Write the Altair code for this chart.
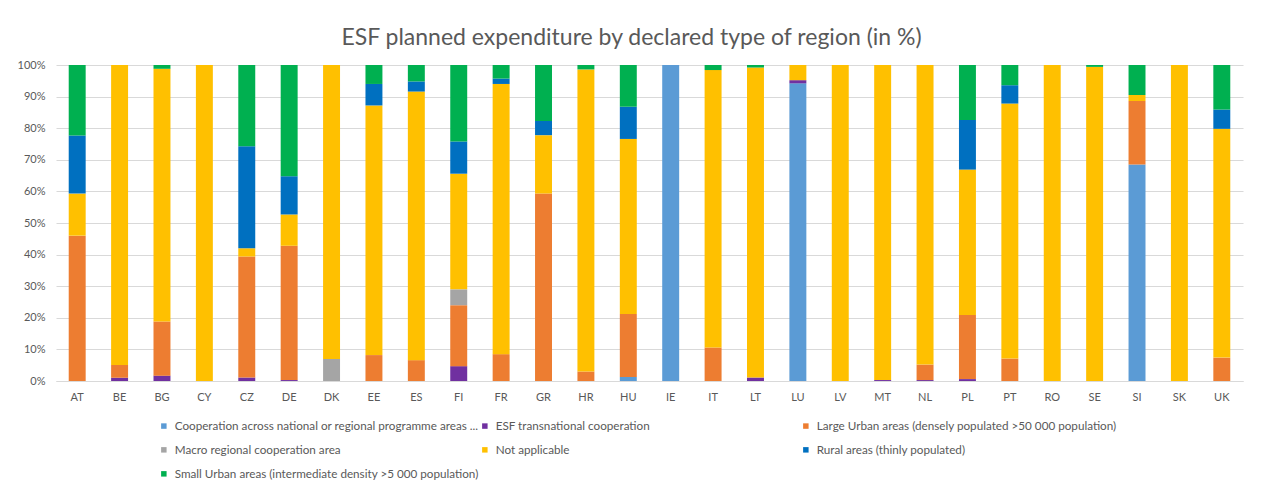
import altair as alt
import pandas as pd

countries = ["AT", "BE", "BG", "CY", "CZ", "DE", "DK", "EE", "ES", "FI",
             "FR", "GR", "HR", "HU", "IE", "IT", "LT", "LU", "LV", "MT",
             "NL", "PL", "PT", "RO", "SE", "SI", "SK", "UK"]

series_names = [
    "Cooperation across national or regional programme areas ...",
    "ESF transnational cooperation",
    "Large Urban areas (densely populated >50 000 population)",
    "Macro regional cooperation area",
    "Not applicable",
    "Rural areas (thinly populated)",
    "Small Urban areas (intermediate density >5 000 population)",
]
series_colors = ["#5B9BD5", "#7030A0", "#ED7D31", "#A5A5A5", "#FFC000", "#0070C0", "#00B050"]

#              AT    BE    BG    CY   CZ    DE    DK   EE   ES   FI    FR   GR    HR   HU    IE   IT    LT   LU    LV   MT    NL   PL    PT   RO   SE    SI    SK   UK
cooperation = [0,    0,    0,    0,   0,    0,    0,   0,   0,   0,    0,   0,    0,   1.3,  100, 0,    0,   94.2, 0,   0,    0,   0,    0,   0,   0,    68.5, 0,   0]
esf_trans   = [0,    1.0,  1.7,  0,   1.1,  0.3,  0,   0,   0,   4.7,  0,   0,    0,   0,    0,   0,    1.1, 1.0,  0,   0.3,  0.3, 0.6,  0,   0,   0,    0,    0,   0]
large_urban = [46.0, 4.1,  17.1, 0,   38.3, 42.5, 0,   8.2, 6.6, 19.3, 8.5, 59.3, 3.0, 19.9, 0,   10.6, 0,   0,    0,   0,    4.9, 20.3, 7.1, 0,   0,    20.1, 0,   7.4]
macro_reg   = [0,    0,    0,    0,   0,    0,    7.0, 0,   0,   5.0,  0,   0,    0,   0,    0,   0,    0,   0,    0,   0,    0,   0,    0,   0,   0,    0,    0,   0]
not_appl    = [13.3, 94.9, 80.0, 100, 2.6,  9.9,  93.0, 79.0, 85.0, 36.6, 85.5, 18.5, 95.6, 55.4, 0, 87.8, 98.1, 4.8, 100, 99.7, 94.8, 46.0, 80.7, 100, 99.4, 1.9, 100, 72.4]
rural       = [18.4, 0,    0,    0,   32.3, 12.1, 0,   6.8, 3.2, 10.2, 1.7, 4.5,  0,   10.2, 0,   0,    0,   0,    0,   0,    0,   15.7, 5.8, 0,   0,    0,    0,   6.1]
small_urban = [22.3, 0,    1.2,  0,   25.7, 35.2, 0,   6.0, 5.2, 24.2, 4.3, 17.7, 1.4, 13.2, 0,   1.6,  0.8, 0,    0,   0,    0,   17.4, 6.4, 0,   0.6,  9.5,  0,   14.1]

all_series = [cooperation, esf_trans, large_urban, macro_reg, not_appl, rural, small_urban]

rows = []
for si, (name, vals) in enumerate(zip(series_names, all_series)):
    for c, v in zip(countries, vals):
        rows.append({"country": c, "type": name, "value": v, "order": si})
df = pd.DataFrame(rows)

FONT = "Lato"

chart = alt.Chart(df).mark_bar().encode(
    x=alt.X("country:N", sort=countries, title=None,
            scale=alt.Scale(paddingInner=0.6, paddingOuter=0.3),
            axis=alt.Axis(labelAngle=0, ticks=False, domain=True, domainColor="#D9D9D9",
                          labelColor="#595959", labelFontSize=11, labelPadding=10, labelFont=FONT)),
    y=alt.Y("value:Q", stack="normalize", title=None,
            scale=alt.Scale(domain=[0, 1]),
            axis=alt.Axis(format=".0%", values=[i / 10 for i in range(11)], ticks=False, domain=False,
                          gridColor="#D9D9D9", labelColor="#595959", labelFontSize=11,
                          labelPadding=11, labelFont=FONT)),
    color=alt.Color("type:N", scale=alt.Scale(domain=series_names, range=series_colors),
                    legend=alt.Legend(title=None, orient="none", legendX=102, legendY=355,
                                      direction="horizontal", columns=3, gridAlign="all",
                                      symbolType="square", symbolSize=30,
                                      labelFontSize=11.7, labelColor="#595959", labelFont=FONT,
                                      labelLimit=400, rowPadding=11, columnPadding=0,
                                      labelOffset=5, symbolStrokeWidth=0)),
    order=alt.Order("order:Q", sort="ascending"),
).properties(
    width=1187, height=316,
    title=alt.TitleParams("ESF planned expenditure by declared type of region (in %)",
                          fontSize=23, font=FONT, fontWeight="normal", color="#595959",
                          anchor="middle", offset=9, dx=-18),
    autosize=alt.AutoSizeParams(type="none"),
    padding={"left": 48, "top": 57, "right": 10, "bottom": 100},
).configure_view(stroke=None)

chart.save("out.html", embed_options={"renderer": "svg", "actions": False})
